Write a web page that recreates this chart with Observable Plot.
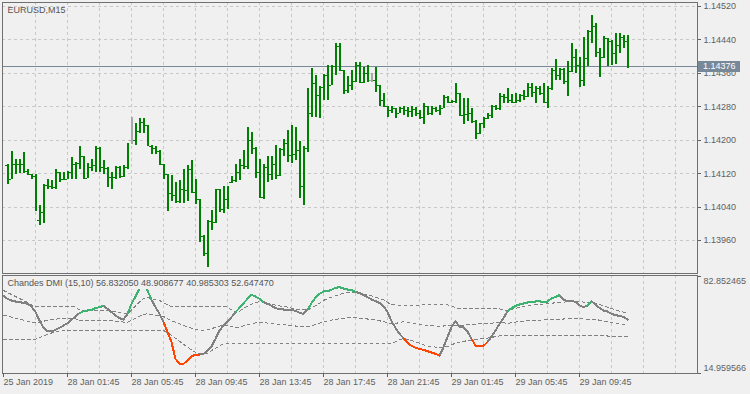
<!DOCTYPE html>
<html><head><meta charset="utf-8">
<script src="https://cdn.jsdelivr.net/npm/d3@7"></script>
<script src="https://cdn.jsdelivr.net/npm/@observablehq/plot@0.6"></script>
<style>
html,body{margin:0;padding:0;background:#f0f0f0;}
#chart{width:750px;height:394px;position:relative;overflow:hidden;background:#f0f0f0;}
#chart svg{display:block;}
</style></head><body><div id="chart"></div>
<script>
// ---------- data ----------
const symbol = "EURUSD,M15";
const indicatorName = "Chandes DMI (15,10)";
// bars 0..155 (M15)
const open = [1.14139,1.14105,1.14141,1.14142,1.14143,1.14125,1.14119,1.14113,1.14007,1.14027,1.14091,1.14089,1.14087,1.14123,1.14105,1.14107,1.14123,1.14143,1.14145,1.14161,1.14109,1.14134,1.14139,1.14179,1.14135,1.14133,1.14111,1.14110,1.14134,1.14113,1.14135,1.14200,1.14200,1.14221,1.14243,1.14235,1.14185,1.14179,1.14174,1.14143,1.14117,1.14073,1.14067,1.14053,1.14081,1.14079,1.14131,1.14075,1.14058,1.13969,1.13928,1.14005,1.14003,1.14082,1.14035,1.14059,1.14099,1.14103,1.14122,1.14139,1.14137,1.14200,1.14179,1.14122,1.14063,1.14135,1.14119,1.14143,1.14115,1.14177,1.14193,1.14163,1.14166,1.14175,1.14089,1.14179,1.14263,1.14335,1.14307,1.14326,1.14355,1.14331,1.14377,1.14424,1.14367,1.14320,1.14331,1.14340,1.14380,1.14338,1.14360,1.14343,1.14343,1.14331,1.14295,1.14281,1.14272,1.14275,1.14265,1.14275,1.14270,1.14268,1.14273,1.14265,1.14255,1.14280,1.14263,1.14277,1.14271,1.14277,1.14303,1.14291,1.14293,1.14311,1.14259,1.14261,1.14265,1.14245,1.14215,1.14239,1.14251,1.14259,1.14281,1.14277,1.14305,1.14303,1.14296,1.14291,1.14295,1.14307,1.14305,1.14325,1.14315,1.14323,1.14312,1.14291,1.14323,1.14367,1.14355,1.14370,1.14340,1.14364,1.14397,1.14379,1.14343,1.14395,1.14461,1.14471,1.14409,1.14399,1.14443,1.14437,1.14408,1.14427,1.14445,1.14437];
const high = [1.14141,1.14173,1.14155,1.14155,1.14170,1.14129,1.14119,1.14119,1.14043,1.14095,1.14105,1.14103,1.14131,1.14123,1.14123,1.14125,1.14159,1.14147,1.14185,1.14161,1.14145,1.14153,1.14185,1.14183,1.14151,1.14134,1.14123,1.14137,1.14137,1.14139,1.14193,1.14255,1.14239,1.14253,1.14253,1.14235,1.14187,1.14185,1.14175,1.14143,1.14117,1.14115,1.14099,1.14103,1.14130,1.14139,1.14151,1.14107,1.14058,1.13972,1.14007,1.14031,1.14083,1.14083,1.14090,1.14090,1.14113,1.14143,1.14155,1.14175,1.14230,1.14219,1.14183,1.14153,1.14142,1.14161,1.14161,1.14187,1.14179,1.14201,1.14223,1.14235,1.14231,1.14197,1.14185,1.14323,1.14371,1.14355,1.14328,1.14357,1.14379,1.14379,1.14431,1.14431,1.14367,1.14352,1.14367,1.14386,1.14387,1.14375,1.14379,1.14359,1.14375,1.14331,1.14311,1.14281,1.14281,1.14275,1.14279,1.14281,1.14279,1.14281,1.14279,1.14271,1.14289,1.14281,1.14281,1.14279,1.14283,1.14307,1.14305,1.14295,1.14335,1.14311,1.14299,1.14299,1.14275,1.14247,1.14241,1.14255,1.14265,1.14283,1.14283,1.14311,1.14309,1.14323,1.14309,1.14312,1.14309,1.14319,1.14335,1.14335,1.14328,1.14328,1.14335,1.14328,1.14371,1.14392,1.14371,1.14371,1.14388,1.14432,1.14416,1.14397,1.14445,1.14463,1.14498,1.14480,1.14420,1.14448,1.14443,1.14439,1.14455,1.14455,1.14451,1.14451];
const low = [1.14095,1.14105,1.14117,1.14121,1.14121,1.14115,1.14107,1.14030,1.13997,1.14001,1.14083,1.14083,1.14083,1.14099,1.14103,1.14105,1.14107,1.14107,1.14131,1.14106,1.14109,1.14125,1.14123,1.14123,1.14119,1.14087,1.14083,1.14105,1.14109,1.14111,1.14129,1.14189,1.14187,1.14217,1.14217,1.14187,1.14167,1.14167,1.14143,1.14105,1.14030,1.14053,1.14049,1.14049,1.14049,1.14053,1.14075,1.14047,1.13956,1.13921,1.13896,1.13983,1.14001,1.14027,1.14025,1.14035,1.14097,1.14099,1.14103,1.14129,1.14131,1.14166,1.14109,1.14061,1.14058,1.14099,1.14103,1.14105,1.14113,1.14161,1.14147,1.14145,1.14151,1.14061,1.14043,1.14171,1.14255,1.14255,1.14251,1.14296,1.14295,1.14331,1.14355,1.14365,1.14309,1.14311,1.14319,1.14339,1.14336,1.14336,1.14339,1.14339,1.14315,1.14281,1.14279,1.14255,1.14263,1.14253,1.14263,1.14259,1.14255,1.14255,1.14257,1.14249,1.14237,1.14259,1.14259,1.14267,1.14259,1.14277,1.14287,1.14287,1.14287,1.14257,1.14237,1.14245,1.14241,1.14201,1.14213,1.14227,1.14249,1.14251,1.14271,1.14271,1.14287,1.14287,1.14287,1.14287,1.14291,1.14295,1.14303,1.14303,1.14289,1.14307,1.14289,1.14277,1.14319,1.14343,1.14343,1.14333,1.14304,1.14363,1.14359,1.14325,1.14328,1.14376,1.14431,1.14399,1.14349,1.14395,1.14376,1.14379,1.14381,1.14407,1.14419,1.14371];
const close = [1.14105,1.14141,1.14142,1.14143,1.14125,1.14119,1.14113,1.14051,1.14027,1.14091,1.14089,1.14087,1.14123,1.14105,1.14107,1.14123,1.14143,1.14145,1.14161,1.14109,1.14134,1.14139,1.14179,1.14135,1.14133,1.14111,1.14110,1.14134,1.14113,1.14135,1.14191,1.14200,1.14221,1.14243,1.14235,1.14187,1.14179,1.14174,1.14143,1.14117,1.14073,1.14067,1.14053,1.14081,1.14079,1.14131,1.14075,1.14058,1.13969,1.13928,1.14005,1.14003,1.14082,1.14035,1.14059,1.14079,1.14103,1.14122,1.14139,1.14137,1.14200,1.14179,1.14122,1.14063,1.14135,1.14119,1.14143,1.14115,1.14177,1.14193,1.14163,1.14166,1.14175,1.14089,1.14179,1.14263,1.14335,1.14307,1.14326,1.14355,1.14331,1.14377,1.14424,1.14367,1.14320,1.14331,1.14340,1.14380,1.14338,1.14360,1.14358,1.14343,1.14331,1.14295,1.14290,1.14272,1.14275,1.14265,1.14275,1.14270,1.14268,1.14273,1.14265,1.14255,1.14280,1.14263,1.14277,1.14271,1.14277,1.14303,1.14291,1.14293,1.14311,1.14259,1.14261,1.14265,1.14248,1.14215,1.14239,1.14251,1.14259,1.14281,1.14277,1.14305,1.14303,1.14296,1.14291,1.14295,1.14307,1.14305,1.14325,1.14315,1.14323,1.14312,1.14291,1.14325,1.14367,1.14355,1.14370,1.14340,1.14364,1.14397,1.14379,1.14343,1.14395,1.14461,1.14471,1.14409,1.14399,1.14443,1.14437,1.14408,1.14427,1.14445,1.14437,1.14376];
const priceTicks = [1.13960, 1.14040, 1.14120, 1.14200, 1.14280, 1.14360, 1.14440, 1.14520];

// indicator values start one bar before the first full bar (index -1)
const dmiFirstBar = -1;
const dmi = [69.3,67.2,66.05,65.35,64.9,64.4,63.7,61.85,57.9,52.05,46.9,44.6,44.35,45.5,46.9,48.55,50.2,52.5,54.85,57.2,58.6,59.05,59.5,60.7,61.4,62.3,60.2,57.9,55.55,53.7,52.75,56.7,63.7,68.85,74.2,82.85,73.05,66.5,61.4,56.7,50.9,43.9,36.9,25.2,21.7,21.7,24.05,26.85,28.25,28.25,28.7,31.05,33.85,39.25,45.05,48.55,51.6,54.4,57.9,60.9,64.2,67.2,70.0,68.85,67.2,64.9,63.7,62.3,60.7,60.0,59.75,59.75,59.5,58.8,57.4,56.7,59.5,64.2,67.9,70.7,72.35,72.6,73.5,74.9,75.4,74.45,73.75,73.3,72.1,71.2,70.0,68.4,66.75,65.6,64.4,62.1,57.9,51.6,46.9,42.7,39.7,36.4,34.3,32.9,32.2,31.5,30.6,29.65,28.7,27.3,33.4,40.4,47.4,51.6,47.85,47.4,44.35,39.2,34.55,33.85,34.3,36.9,40.85,45.05,49.7,53.7,58.6,60.7,62.3,63.25,63.95,64.65,65.1,65.35,65.6,64.65,65.35,67.45,68.6,69.8,66.75,65.35,66.05,64.9,62.8,61.4,62.55,65.6,63.25,60.9,59.05,58.35,56.7,55.8,55.3,54.6,52.64747];
const levelUp = [73.05,71.65,70.25,68.85,67.45,66.05,64.65,63.0,61.85,61.85,61.85,61.85,61.85,61.85,61.85,61.85,61.85,61.85,61.5,59.5,58.6,58.8,59.0,59.0,59.0,59.0,59.0,58.6,58.1,57.65,56.9,56.6,59.5,62.3,65.1,67.45,68.4,67.0,66.5,66.05,64.65,63.0,61.85,61.85,61.85,61.85,61.85,61.85,61.85,61.85,61.85,61.85,61.85,61.85,61.85,61.85,61.4,59.5,57.5,58.5,60.5,62.0,63.5,64.5,65.35,65.2,64.2,63.5,62.8,62.3,61.85,61.4,60.7,60.2,59.75,59.5,59.5,60.7,62.3,64.2,66.05,67.45,68.4,69.3,70.25,71.2,71.65,71.9,71.65,71.2,70.7,70.0,69.3,68.4,67.45,66.5,64.65,63.25,62.8,62.8,62.8,62.8,62.8,62.8,62.8,63.0,63.0,63.0,63.0,63.0,63.0,63.0,62.3,60.9,60.4,60.2,60.2,60.2,60.2,60.2,60.2,60.2,60.2,60.2,60.2,59.6,58.6,59.8,60.6,61.3,61.9,62.4,62.8,63.1,63.4,63.6,63.9,64.2,64.4,64.65,64.9,65.1,65.1,65.1,65.35,64.9,64.65,64.65,64.2,63.25,62.3,61.4,60.45,59.5,58.6,57.9,56.83205];
const levelMid = [55.78,55.08,54.38,53.68,52.98,52.28,51.58,50.75,50.4,51.0,51.58,52.05,52.53,52.98,53.33,53.45,53.45,53.45,53.28,52.28,51.83,51.93,52.03,52.03,52.03,52.03,52.03,51.83,51.58,51.35,50.98,50.83,52.28,53.68,55.08,56.25,56.73,56.03,55.78,55.55,54.85,53.33,51.83,50.78,49.73,48.68,47.63,46.68,45.75,45.18,45.18,45.53,46.45,47.15,48.08,48.78,48.8,47.85,46.85,47.35,48.35,49.1,49.85,50.35,50.78,50.7,50.2,49.85,49.5,49.25,49.03,48.8,48.45,48.2,47.98,47.85,47.85,48.45,49.25,50.2,51.13,51.83,52.3,52.75,53.23,53.7,53.93,54.05,53.93,53.7,53.45,53.1,52.75,52.3,51.83,51.35,50.43,49.73,49.95,50.65,51.13,50.88,50.43,49.95,49.5,49.0,48.65,48.43,48.2,48.2,48.2,48.43,48.65,48.55,48.65,48.78,49.13,49.35,49.58,49.7,49.83,49.95,50.18,50.53,50.75,50.45,49.95,50.55,50.95,51.3,51.6,51.85,52.05,52.2,52.35,52.45,52.6,52.75,52.85,52.98,53.1,53.2,53.2,53.2,53.33,53.1,52.98,52.98,52.75,52.28,51.8,51.3,50.8,50.3,49.83,49.45,48.908677];
const levelDn = [38.5,38.5,38.5,38.5,38.5,38.5,38.5,38.5,38.95,40.15,41.3,42.25,43.2,44.1,44.8,45.05,45.05,45.05,45.05,45.05,45.05,45.05,45.05,45.05,45.05,45.05,45.05,45.05,45.05,45.05,45.05,45.05,45.05,45.05,45.05,45.05,45.05,45.05,45.05,45.05,45.05,43.65,41.8,39.7,37.6,35.5,33.4,31.5,29.65,28.5,28.5,29.2,31.05,32.45,34.3,35.7,36.2,36.2,36.2,36.2,36.2,36.2,36.2,36.2,36.2,36.2,36.2,36.2,36.2,36.2,36.2,36.2,36.2,36.2,36.2,36.2,36.2,36.2,36.2,36.2,36.2,36.2,36.2,36.2,36.2,36.2,36.2,36.2,36.2,36.2,36.2,36.2,36.2,36.2,36.2,36.2,36.2,36.2,37.1,38.5,39.45,38.95,38.05,37.1,36.2,35.0,34.3,33.85,33.4,33.4,33.4,33.85,35.0,36.2,36.9,37.35,38.05,38.5,38.95,39.2,39.45,39.7,40.15,40.85,41.3,41.3,41.3,41.3,41.3,41.3,41.3,41.3,41.3,41.3,41.3,41.3,41.3,41.3,41.3,41.3,41.3,41.3,41.3,41.3,41.3,41.3,41.3,41.3,41.3,41.3,41.3,41.2,41.15,41.1,41.05,41.0,40.985303];
// colored runs of the DMI line (bar index ranges)
const upRuns = [[18,24],[30,36],[57,64],[75,87],[125,138],[145,146]];
const downRuns = [[39,48],[99,108],[116,120]];
const dmiScale = [14.959566, 82.852465];

const timeTickBars = [-1, 15, 31, 47, 63, 79, 95, 111, 127, 143];
const timeTickLabels = ["25 Jan 2019","28 Jan 01:45","28 Jan 05:45","28 Jan 09:45","28 Jan 13:45","28 Jan 17:45","28 Jan 21:45","29 Jan 01:45","29 Jan 05:45","29 Jan 09:45"];

// ---------- build ----------
const n = Math.min(open.length, high.length, low.length, close.length);
const bars = d3.range(n).map(k => ({i: k, o: open[k], h: high[k], l: low[k], c: close[k]}));
const barColor = d => d.o === d.c ? "#a8a8a8" : "#008000";
const lastClose = close[n - 1];

const m = Math.min(dmi.length, levelUp.length, levelMid.length, levelDn.length);
const dmiRows = d3.range(m).map(k => ({i: k + dmiFirstBar, v: dmi[k], up: levelUp[k], mid: levelMid[k], dn: levelDn[k]}));
const runRows = [];
upRuns.forEach(([a, b], r) => { for (let k = a; k <= b; k++) runRows.push({i: k, v: dmi[k - dmiFirstBar], run: "u" + r, color: "#3cb371"}); });
downRuns.forEach(([a, b], r) => { for (let k = a; k <= b; k++) runRows.push({i: k, v: dmi[k - dmiFirstBar], run: "d" + r, color: "#ff4500"}); });

const labelMap = new Map(timeTickBars.map((b, k) => [b, timeTickLabels[k]]));
const gridBars = d3.range(7, 172, 8);
const X_DOMAIN = [-1.25, 172.5];
const FONT = "'Liberation Sans', Arial, sans-serif";
const baseStyle = {fontFamily: FONT, fontSize: "9px", color: "#5f5f5f", background: "#f0f0f0", overflow: "visible"};
const gridOpts = {stroke: "#c8c8c8", strokeOpacity: 1, strokeDasharray: "3,3"};

const main = Plot.plot({
  width: 750, height: 274,
  marginTop: 2, marginRight: 53, marginBottom: 1, marginLeft: 2,
  x: {domain: X_DOMAIN, axis: null},
  y: {domain: [1.13881, 1.145296], axis: null},
  color: {type: "identity"},
  style: baseStyle,
  marks: [
    Plot.gridX({ticks: gridBars, ...gridOpts}),
    Plot.gridY({ticks: priceTicks, ...gridOpts}),
    Plot.ruleY([lastClose], {stroke: "#778899", strokeWidth: 1}),
    Plot.ruleX(bars, {x: "i", y1: "l", y2: "h", stroke: barColor, strokeWidth: 2}),
    Plot.ruleY(bars, {y: "o", x1: d => d.i - 0.6, x2: "i", stroke: barColor, strokeWidth: 1}),
    Plot.ruleY(bars, {y: "c", x1: "i", x2: d => d.i + 0.6, stroke: barColor, strokeWidth: 1}),
    Plot.frame({stroke: "#707070"}),
    Plot.axisY({anchor: "right", ticks: priceTicks, tickFormat: d3.format(".5f"), tickSize: 3, tickPadding: 3, label: null}),
    Plot.text([symbol], {frameAnchor: "top-left", dx: 5, dy: 4, lineAnchor: "top", textAnchor: "start", fill: "#555555"})
  ]
});

const label = `${indicatorName} ${levelUp[m-1].toFixed(6)} ${levelMid[m-1].toFixed(6)} ${levelDn[m-1].toFixed(6)} ${dmi[m-1].toFixed(6)}`;

const ind = Plot.plot({
  width: 750, height: 120,
  marginTop: 1, marginRight: 53, marginBottom: 21, marginLeft: 2,
  x: {domain: X_DOMAIN, axis: null},
  y: {domain: [dmiScale[0], 83.55], axis: null},
  color: {type: "identity"},
  style: baseStyle,
  marks: [
    Plot.gridX({ticks: gridBars, ...gridOpts}),
    Plot.line(dmiRows, {x: "i", y: "up", stroke: "#808080", strokeWidth: 1, strokeDasharray: "3,3"}),
    Plot.line(dmiRows, {x: "i", y: "mid", stroke: "#808080", strokeWidth: 1, strokeDasharray: "3,3"}),
    Plot.line(dmiRows, {x: "i", y: "dn", stroke: "#808080", strokeWidth: 1, strokeDasharray: "3,3"}),
    Plot.line(dmiRows, {x: "i", y: "v", stroke: "#808080", strokeWidth: 2}),
    Plot.line(runRows, {x: "i", y: "v", z: "run", stroke: "color", strokeWidth: 2}),
    Plot.frame({stroke: "#707070"}),
    Plot.axisY({anchor: "right", ticks: dmiScale, tickSize: 3, tickFormat: () => "", label: null}),
    Plot.text([dmiScale[1]], {y: d => d, frameAnchor: "right", dx: 6, dy: 5, textAnchor: "start", text: d => d.toFixed(6)}),
    Plot.text([dmiScale[0]], {y: d => d, frameAnchor: "right", dx: 6, dy: -5, textAnchor: "start", text: d => d.toFixed(6)}),
    Plot.axisX({anchor: "bottom", ticks: timeTickBars, tickFormat: d => labelMap.get(d), tickSize: 4, tickPadding: 1, textAnchor: "start", label: null}),
    Plot.text([label], {frameAnchor: "top-left", dx: 5, dy: 4, lineAnchor: "top", textAnchor: "start", fill: "#555555"})
  ]
});

const host = document.getElementById("chart");
host.appendChild(main);
host.appendChild(ind);
for (const s of [main, ind]) s.style.shapeRendering = "crispEdges";

const NS = "http://www.w3.org/2000/svg";
// price label box
const py = main.scale("y").apply(lastClose);
const box = document.createElementNS(NS, "rect");
box.setAttribute("x", 698); box.setAttribute("y", py - 5.5);
box.setAttribute("width", 42); box.setAttribute("height", 11);
box.setAttribute("fill", "#778899");
main.appendChild(box);
const bt = document.createElementNS(NS, "text");
bt.setAttribute("x", 703); bt.setAttribute("y", py);
bt.setAttribute("dominant-baseline", "central");
bt.setAttribute("text-anchor", "start");
bt.setAttribute("fill", "#ffffff");
bt.setAttribute("font-family", FONT); bt.setAttribute("font-size", "9px");
bt.textContent = lastClose.toFixed(5);
main.appendChild(bt);

// background behind the indicator caption (covers the line like the terminal does)
const capText = Array.from(ind.querySelectorAll("text")).find(t => t.textContent === label);
if (capText) {
  const sr = ind.getBoundingClientRect();
  const tr = capText.getBoundingClientRect();
  const g = capText.closest("g") || capText.parentNode;
  const r = document.createElementNS(NS, "rect");
  r.setAttribute("x", tr.left - sr.left - 1);
  r.setAttribute("y", 2);
  r.setAttribute("width", tr.width + 2);
  r.setAttribute("height", tr.bottom - sr.top - 1);
  r.setAttribute("fill", "#f0f0f0");
  g.parentNode.insertBefore(r, g);
}
</script></body></html>
